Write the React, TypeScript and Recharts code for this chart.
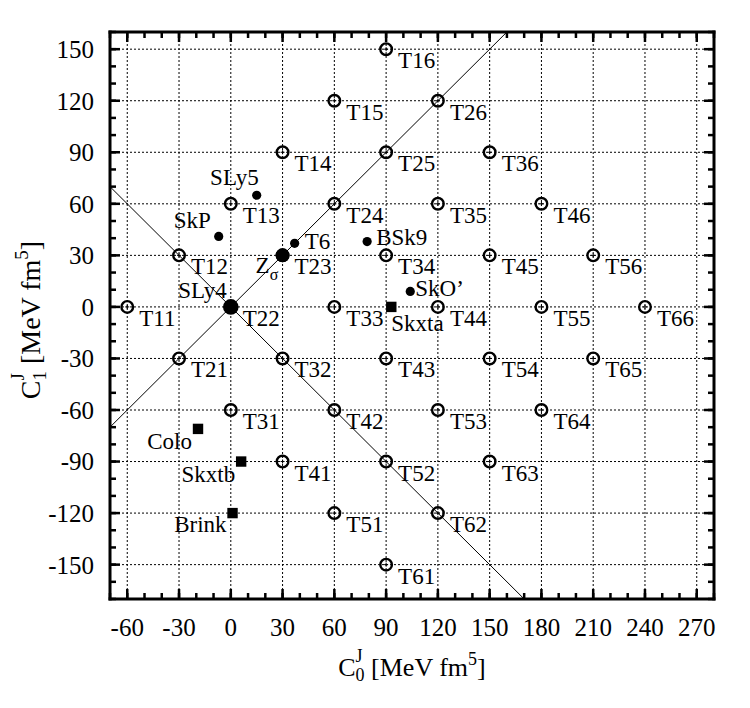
import React from "react";
import { CartesianGrid, ReferenceLine, Scatter, ScatterChart, XAxis, YAxis } from "recharts";

const FONT = '"Liberation Serif", "Times New Roman", Times, serif';

// axis ticks
const X_TICKS = [-60, -30, 0, 30, 60, 90, 120, 150, 180, 210, 240, 270];
const Y_TICKS = [-150, -120, -90, -60, -30, 0, 30, 60, 90, 120, 150];
const X_MINOR = [-70, -60, -50, -40, -30, -20, -10, 0, 10, 20, 30, 40, 50, 60, 70, 80, 90, 100, 110, 120, 130, 140, 150, 160, 170, 180, 190, 200, 210, 220, 230, 240, 250, 260, 270, 280];
const Y_MINOR = [-170, -160, -150, -140, -130, -120, -110, -100, -90, -80, -70, -60, -50, -40, -30, -20, -10, 0, 10, 20, 30, 40, 50, 60, 70, 80, 90, 100, 110, 120, 130, 140, 150, 160];
const X_DOMAIN = [-70, 280];
const Y_DOMAIN = [-170, 160];

// TIJ parametrisations
const T_NAMES = ["T11", "T12", "T13", "T14", "T15", "T16", "T21", "T22", "T23", "T24", "T25", "T26", "T31", "T32", "T33", "T34", "T35", "T36", "T41", "T42", "T43", "T44", "T45", "T46", "T51", "T52", "T53", "T54", "T55", "T56", "T61", "T62", "T63", "T64", "T65", "T66"];
const T_C0 = [-60, -30, 0, 30, 60, 90, -30, 0, 30, 60, 90, 120, 0, 30, 60, 90, 120, 150, 30, 60, 90, 120, 150, 180, 60, 90, 120, 150, 180, 210, 90, 120, 150, 180, 210, 240];
const T_C1 = [0, 30, 60, 90, 120, 150, -30, 0, 30, 60, 90, 120, -60, -30, 0, 30, 60, 90, -90, -60, -30, 0, 30, 60, -120, -90, -60, -30, 0, 30, -150, -120, -90, -60, -30, 0];

// other forces, small filled circles
const DOT_NAMES = ["SLy5", "SkP", "T6", "BSk9", "SkO’"];
const DOT_C0 = [15, -7, 37, 79, 104];
const DOT_C1 = [65, 41, 37, 38, 9];

// big filled circles
const BIG_NAMES = ["SLy4", "Zσ"];
const BIG_C0 = [0, 30];
const BIG_C1 = [0, 30];

// filled squares
const SQ_NAMES = ["Skxta", "Colo", "Skxtb", "Brink"];
const SQ_C0 = [93, -19, 6, 1];
const SQ_C1 = [0, -71, -90, -120];

// guide lines C1 = C0 and C1 = -C0
const UP_C0 = [-70, 160];
const UP_C1 = [-70, 160];
const DOWN_C0 = [-70, 170];
const DOWN_C1 = [70, -170];

const zip = (names: string[], xs: number[], ys: number[]) => names.map((name, i) => ({ name, x: xs[i], y: ys[i] }));

const tData = zip(T_NAMES, T_C0, T_C1);
const dotData = zip(DOT_NAMES, DOT_C0, DOT_C1);
const bigData = zip(BIG_NAMES, BIG_C0, BIG_C1);
const sqData = zip(SQ_NAMES, SQ_C0, SQ_C1);

const LABEL_POS: Record<string, { dx: number; dy: number; anchor: "start" | "end" }> = {
  SLy5: { dx: 2, dy: -10, anchor: "end" },
  SkP: { dx: -8, dy: -8, anchor: "end" },
  T6: { dx: 10, dy: 6, anchor: "start" },
  BSk9: { dx: 9, dy: 3, anchor: "start" },
  "SkO’": { dx: 5, dy: 5, anchor: "start" },
  SLy4: { dx: -4, dy: -9, anchor: "end" },
  Skxta: { dx: 0, dy: 24, anchor: "start" },
  Colo: { dx: -6, dy: 20, anchor: "end" },
  Skxtb: { dx: -6, dy: 20, anchor: "end" },
  Brink: { dx: -6, dy: 19, anchor: "end" },
};

const LABEL_SIZE = 23;

function PointLabel({ cx, cy, name }: { cx: number; cy: number; name: string }) {
  if (name === "Zσ") {
    return (
      <text x={cx - 27} y={cy + 18} fontSize={LABEL_SIZE} fontFamily={FONT} fill="#000">
        Z<tspan dy={7} fontSize={16}>σ</tspan>
      </text>
    );
  }
  const p = LABEL_POS[name] ?? { dx: 12, dy: 19, anchor: "start" };
  return (
    <text x={cx + p.dx} y={cy + p.dy} textAnchor={p.anchor} fontSize={LABEL_SIZE} fontFamily={FONT} fill="#000">
      {name}
    </text>
  );
}

const ringShape = (props: any) => {
  const { cx, cy, payload } = props;
  return (
    <g>
      <circle cx={cx} cy={cy} r={5.8} fill="none" stroke="#000" strokeWidth={2.4} />
      <line x1={cx - 2} x2={cx + 2} y1={cy} y2={cy} stroke="#000" strokeWidth={1} />
      <line x1={cx} x2={cx} y1={cy - 2} y2={cy + 2} stroke="#000" strokeWidth={1} />
      <PointLabel cx={cx} cy={cy} name={payload.name} />
    </g>
  );
};

const dotShape = (props: any) => {
  const { cx, cy, payload } = props;
  return (
    <g>
      <circle cx={cx} cy={cy} r={4.6} fill="#000" />
      <PointLabel cx={cx} cy={cy} name={payload.name} />
    </g>
  );
};

const bigShape = (props: any) => {
  const { cx, cy, payload } = props;
  return (
    <g>
      <circle cx={cx} cy={cy} r={payload.name === "SLy4" ? 7.8 : 7} fill="#000" />
      <PointLabel cx={cx} cy={cy} name={payload.name} />
    </g>
  );
};

const squareShape = (props: any) => {
  const { cx, cy, payload } = props;
  return (
    <g>
      <rect x={cx - 5.2} y={cy - 5.2} width={10.4} height={10.4} fill="#000" />
      <PointLabel cx={cx} cy={cy} name={payload.name} />
    </g>
  );
};

// tick marks only, no text (tick={false} would drop the tick lines too)
const noLabel = () => <g />;

const frame = { stroke: "#000", strokeWidth: 3, strokeLinecap: "square" as const };
const major = { stroke: "#000", strokeWidth: 2.5 };
const tickFont = { fontSize: 25, fill: "#000", fontFamily: FONT };

export default function App() {
  return (
    <div style={{ position: "absolute", left: 0, top: 0, width: 750, height: 708, background: "#fff" }}>
      <ScatterChart width={750} height={708} margin={{ top: 32, right: 36, bottom: 0, left: 0 }}>
        <CartesianGrid xAxisId="main" yAxisId="main" stroke="#000" strokeWidth={1} strokeDasharray="2 2" />
        <XAxis xAxisId="main" dataKey="x" type="number" domain={X_DOMAIN} allowDataOverflow ticks={X_TICKS} interval={0} height={109}
          tickLine={false} axisLine={false} tickSize={0} tickMargin={19} tick={tickFont} />
        <YAxis yAxisId="main" dataKey="y" type="number" domain={Y_DOMAIN} allowDataOverflow ticks={Y_TICKS} interval={0} width={110}
          tickLine={false} axisLine={false} tickSize={0} tickMargin={16} tick={tickFont} />

        <XAxis xAxisId="bMaj" dataKey="x" type="number" domain={X_DOMAIN} allowDataOverflow ticks={X_TICKS} interval={0} orientation="bottom" mirror height={1}
          tick={noLabel} tickSize={10} tickLine={major} axisLine={frame} />
        <XAxis xAxisId="bMin" dataKey="x" type="number" domain={X_DOMAIN} allowDataOverflow ticks={X_MINOR} interval={0} orientation="bottom" mirror height={1}
          tick={noLabel} tickSize={5} tickLine={major} axisLine={false} />
        <XAxis xAxisId="tMaj" dataKey="x" type="number" domain={X_DOMAIN} allowDataOverflow ticks={X_TICKS} interval={0} orientation="top" mirror height={1}
          tick={noLabel} tickSize={10} tickLine={major} axisLine={frame} />
        <XAxis xAxisId="tMin" dataKey="x" type="number" domain={X_DOMAIN} allowDataOverflow ticks={X_MINOR} interval={0} orientation="top" mirror height={1}
          tick={noLabel} tickSize={5} tickLine={major} axisLine={false} />
        <YAxis yAxisId="lMaj" dataKey="y" type="number" domain={Y_DOMAIN} allowDataOverflow ticks={Y_TICKS} interval={0} orientation="left" mirror width={1}
          tick={noLabel} tickSize={10} tickLine={major} axisLine={frame} />
        <YAxis yAxisId="lMin" dataKey="y" type="number" domain={Y_DOMAIN} allowDataOverflow ticks={Y_MINOR} interval={0} orientation="left" mirror width={1}
          tick={noLabel} tickSize={5} tickLine={major} axisLine={false} />
        <YAxis yAxisId="rMaj" dataKey="y" type="number" domain={Y_DOMAIN} allowDataOverflow ticks={Y_TICKS} interval={0} orientation="right" mirror width={1}
          tick={noLabel} tickSize={10} tickLine={major} axisLine={frame} />
        <YAxis yAxisId="rMin" dataKey="y" type="number" domain={Y_DOMAIN} allowDataOverflow ticks={Y_MINOR} interval={0} orientation="right" mirror width={1}
          tick={noLabel} tickSize={5} tickLine={major} axisLine={false} />

        <ReferenceLine xAxisId="main" yAxisId="main" stroke="#000" strokeWidth={1}
          segment={[{ x: UP_C0[0], y: UP_C1[0] }, { x: UP_C0[1], y: UP_C1[1] }]} />
        <ReferenceLine xAxisId="main" yAxisId="main" stroke="#000" strokeWidth={1}
          segment={[{ x: DOWN_C0[0], y: DOWN_C1[0] }, { x: DOWN_C0[1], y: DOWN_C1[1] }]} />

        <Scatter xAxisId="main" yAxisId="main" data={tData} shape={ringShape} isAnimationActive={false} />
        <Scatter xAxisId="main" yAxisId="main" data={dotData} shape={dotShape} isAnimationActive={false} />
        <Scatter xAxisId="main" yAxisId="main" data={sqData} shape={squareShape} isAnimationActive={false} />
        <Scatter xAxisId="main" yAxisId="main" data={bigData} shape={bigShape} isAnimationActive={false} />
      </ScatterChart>

      <svg width={750} height={708} style={{ position: "absolute", left: 0, top: 0, pointerEvents: "none" }}>
        <text x={412} y={676} textAnchor="middle" fontSize={26} fontFamily={FONT} fill="#000">
          C<tspan dy={-14} fontSize={18}>J</tspan>
          <tspan dx={-7} dy={19} fontSize={18}>0</tspan>
          <tspan dy={-5}> [MeV fm</tspan>
          <tspan dy={-11} fontSize={18}>5</tspan>
          <tspan dy={11}>]</tspan>
        </text>
        <text transform="translate(40,320) rotate(-90)" textAnchor="middle" fontSize={28} fontFamily={FONT} fill="#000">
          C<tspan dy={-16} fontSize={19}>J</tspan>
          <tspan dx={-7.5} dy={22} fontSize={19}>1</tspan>
          <tspan dy={-6}> [MeV fm</tspan>
          <tspan dy={-12} fontSize={19}>5</tspan>
          <tspan dy={12}>]</tspan>
        </text>
      </svg>
    </div>
  );
}
